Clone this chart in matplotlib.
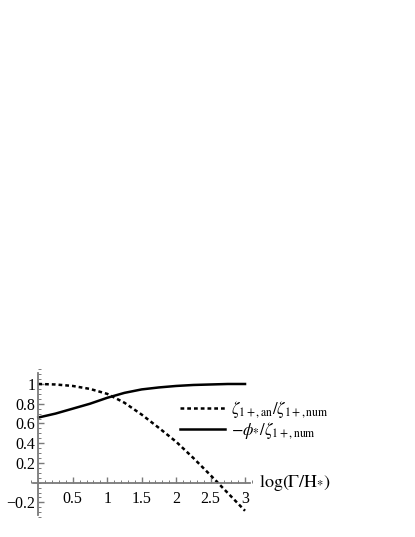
import numpy as np
import matplotlib
matplotlib.use("Agg")
import matplotlib.pyplot as plt
from matplotlib.ticker import MultipleLocator, FixedLocator, FixedFormatter

plt.rcParams['font.family'] = ['Liberation Serif', 'DejaVu Serif']
plt.rcParams['mathtext.fontset'] = 'stix'

# values
logG = [0.0, 0.25, 0.5, 0.75, 1.0, 1.25, 1.5, 1.75, 2.0, 2.25, 2.5, 2.75, 3.0]
ratio_an = [1.0, 0.995, 0.98, 0.95, 0.9, 0.81, 0.69, 0.555, 0.415, 0.25, 0.075, -0.105, -0.285]
ratio_phi = [0.66, 0.70, 0.75, 0.80, 0.86, 0.91, 0.945, 0.965, 0.98, 0.99, 0.995, 1.0, 1.0]

xticks = [0.5, 1, 1.5, 2, 2.5, 3]
xticklabels = ['0.5', '1', '1.5', '2', '2.5', '3']
yticks = [-0.2, 0.2, 0.4, 0.6, 0.8, 1]
yticklabels = ['\u22120.2', '0.2', '0.4', '0.6', '0.8', '1']

fig = plt.figure(figsize=(4.15, 5.37), dpi=100)
ax = fig.add_axes([0.0757, 0.0369, 0.5313, 0.2756])
ax.set_xlim(-0.1, 3.1)
ax.set_ylim(-0.35, 1.15)

ax.plot(logG, ratio_an, color='black', lw=1.8, linestyle=(0, (1.5, 1.2)),
        label=r'$\zeta_{1+,\mathrm{an}}/\zeta_{1+,\mathrm{num}}$')
ax.plot(logG, ratio_phi, color='black', lw=1.8,
        label=r'$-\phi_{*}/\zeta_{1+,\mathrm{num}}$')

axis_col = '#7a7a7a'
for s in ['top', 'right']:
    ax.spines[s].set_visible(False)
ax.spines['left'].set_position(('data', 0))
ax.spines['bottom'].set_position(('data', 0))
ax.spines['left'].set_bounds(-0.33, 1.11)
ax.spines['bottom'].set_bounds(-0.08, 3.07)
for s in ['left', 'bottom']:
    ax.spines[s].set_color(axis_col)
    ax.spines[s].set_linewidth(1.3)

ax.xaxis.set_major_locator(FixedLocator(xticks))
ax.xaxis.set_major_formatter(FixedFormatter(xticklabels))
ax.xaxis.set_minor_locator(MultipleLocator(0.1))
ax.yaxis.set_major_locator(FixedLocator(yticks))
ax.yaxis.set_major_formatter(FixedFormatter(yticklabels))
ax.yaxis.set_minor_locator(MultipleLocator(0.05))
ax.tick_params(which='major', direction='in', length=4, width=1, color=axis_col,
               labelsize=11.5)
ax.tick_params(which='minor', direction='in', length=2, width=0.7, color=axis_col)
ax.tick_params(axis='x', which='major', pad=6)
ax.tick_params(axis='y', which='major', pad=2)

ax.text(1.03, 0, r'$\log(\Gamma/\mathrm{H}_{*})$', transform=ax.get_yaxis_transform(),
        fontsize=13, va='center', ha='left')

ax.legend(loc='upper left', bbox_to_anchor=(0.643, 0.841), frameon=False,
          handlelength=2.7, handletextpad=0.35, labelspacing=0.0, fontsize=12,
          borderaxespad=0)

fig.savefig('out.png', dpi=100)
